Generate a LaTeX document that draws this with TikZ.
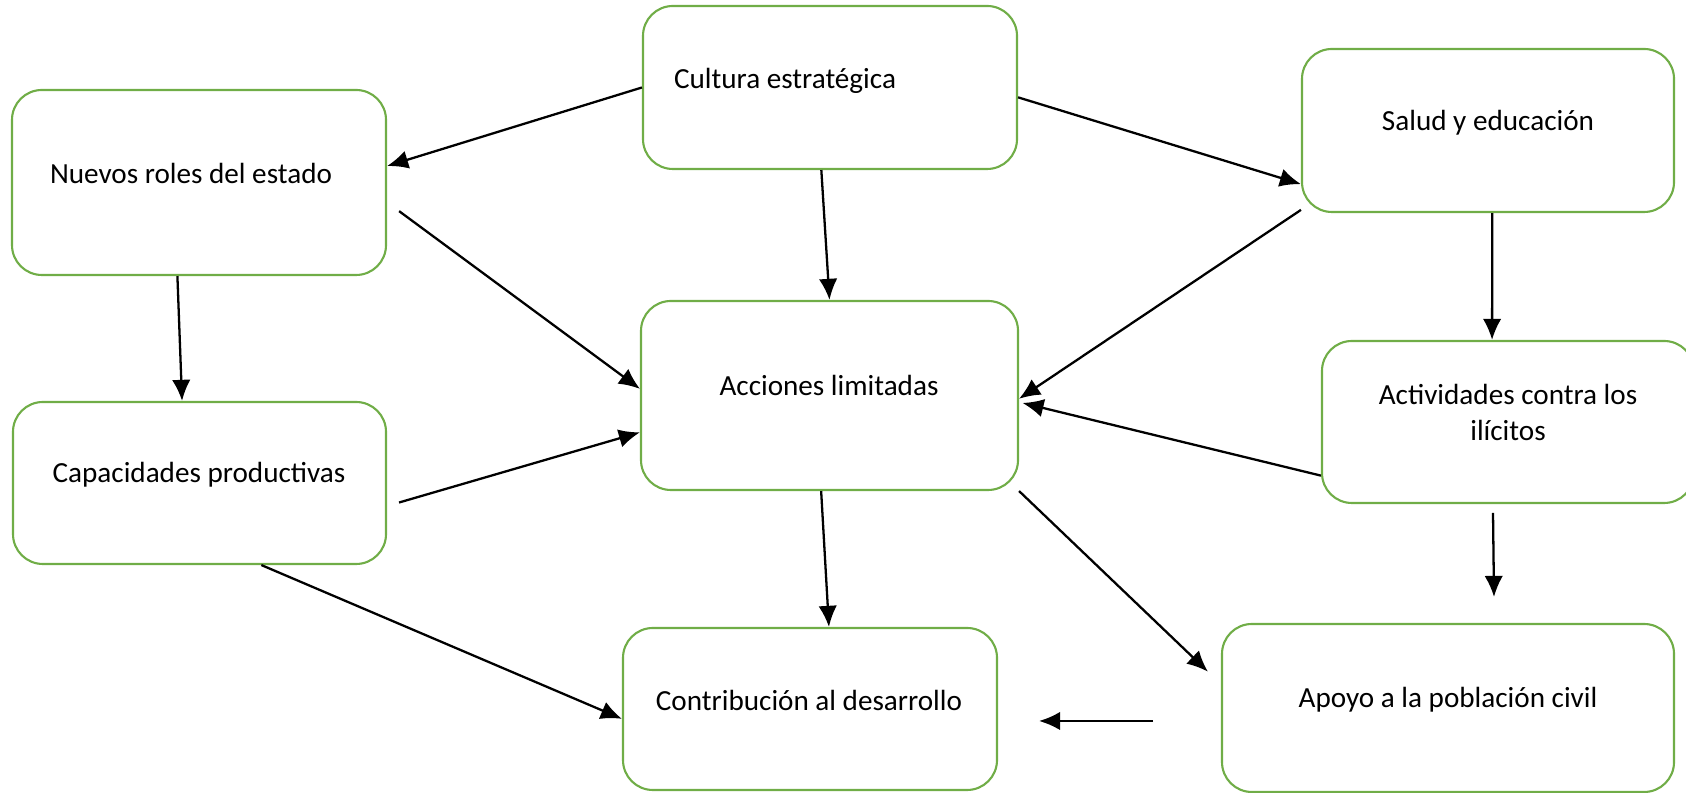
\documentclass[tikz,border=0pt]{standalone}
\usepackage{fontspec}
\setmainfont{Carlito}
\usepackage{tikz}
\usetikzlibrary{arrows.meta}
\definecolor{verde}{RGB}{112,173,71}
\tikzset{>={Latex[length=12pt,width=10.5pt]}}
\tikzset{caja/.style={draw=verde, line width=1.2pt, rounded corners=17pt}}
\tikzset{texto/.style={font=\fontsize{16.6}{21}\selectfont, inner sep=0pt}}
\tikzset{flecha/.style={->, line width=1.3pt}}

\begin{document}
\begin{tikzpicture}[scale=2]
\useasboundingbox (0,0) rectangle (16.86,7.93);

% cajas
\node[caja, minimum width=7.48cm, minimum height=3.26cm] (cul) at (8.30,7.055) {};
\node[caja, minimum width=7.48cm, minimum height=3.70cm] (nue) at (1.99,6.105) {};
\node[caja, minimum width=7.44cm, minimum height=3.26cm] (sal) at (14.88,6.625) {};
\node[caja, minimum width=7.54cm, minimum height=3.78cm] (acc) at (8.295,3.975) {};
\node[caja, minimum width=7.46cm, minimum height=3.24cm] (cap) at (1.995,3.10) {};
\node[caja, minimum width=7.44cm, minimum height=3.24cm] (act) at (15.08,3.71) {};
\node[caja, minimum width=7.48cm, minimum height=3.24cm] (con) at (8.10,0.84) {};
\node[caja, minimum width=9.04cm, minimum height=3.36cm] (apo) at (14.48,0.85) {};

% textos
\node[texto] (cul-t) at (7.85,7.125) {Cultura estratégica};
\node[texto] (nue-t) at (1.91,6.195) {Nuevos roles del estado};
\node[texto] (sal-t) at (14.88,6.705) {Salud y educación};
\node[texto] (acc-t) at (8.29,4.075) {Acciones limitadas};
\node[texto] (cap-t) at (1.99,3.18) {Capacidades productivas};
\node[texto, align=center] (act-t) at (15.08,3.805) {Actividades contra los\\ilícitos};
\node[texto] (con-t) at (8.09,0.93) {Contribución al desarrollo};
\node[texto] (apo-t) at (14.48,0.93) {Apoyo a la población civil};

% extremos sueltos
\coordinate (act-b) at (14.93,2.80);
\coordinate (apo-n) at (14.94,1.96);
\coordinate (apo-w) at (11.53,0.72);
\coordinate (con-e) at (10.39,0.72);

% flechas
\draw[flecha] (cul.west) -- (nue.5);
\draw[flecha] (cul.-3) -- (sal.196);
\draw[flecha] (cul.264) -- (acc.north);
\draw[flecha, shorten <=0.3cm] (nue.-6) -- (acc.178);
\draw[flecha] (sal.203.5) -- (acc.-1);
\draw[flecha, shorten >=2pt] (act.196) -- (acc.-2);
\draw[flecha] (nue.257) -- (cap.102);
\draw[flecha] (sal.273) -- (act.101);
\draw[flecha, shorten <=0.25cm] (cap.-7.5) -- (acc.191);
\draw[flecha] (cap.-53) -- (con.183);
\draw[flecha] (acc.265) -- (con.77.5);
\draw[flecha, shorten >=0.36cm] (acc.south east) -- (apo.174);
\draw[flecha] (act-b) -- (apo-n);
\draw[flecha] (apo-w) -- (con-e);

\end{tikzpicture}
\end{document}
